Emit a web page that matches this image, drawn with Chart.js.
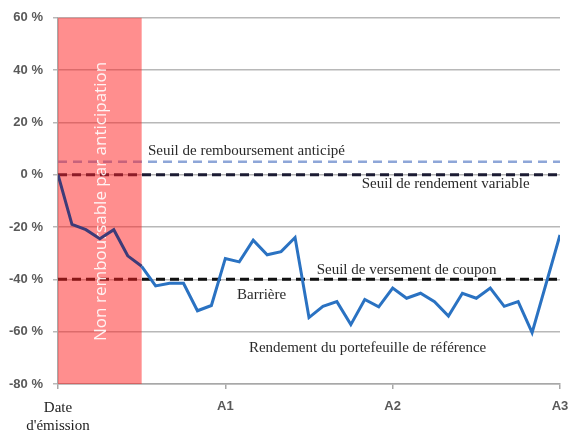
<!DOCTYPE html>
<html>
<head>
<meta charset="utf-8">
<script src="https://cdn.jsdelivr.net/npm/chart.js@4.4.1/dist/chart.umd.min.js"></script>
<style>
  html, body { margin: 0; padding: 0; background: #fff; }
  #wrap { width: 572px; height: 436px; }
</style>
</head>
<body>
<div id="wrap"><canvas id="chart"></canvas></div>
<script>
// months since issue date and portfolio return (%)
const months = [0, 1, 2, 3, 4, 5, 6, 7, 8, 9, 10, 11, 12, 13, 14, 15, 16, 17,
  18, 19, 20, 21, 22, 23, 24, 25, 26, 27, 28, 29, 30, 31, 32, 33, 34, 36];
const portfolio = [0, -19, -21, -24.5, -21, -31, -35, -42.5, -41.5, -41.5, -52, -50, -32,
  -33.3, -25, -30.6, -29.4, -24, -54.6, -50.3, -48.5, -57.3, -47.7, -50.5, -43.3,
  -47.2, -45.3, -48.5, -54, -45.3, -47.2, -43.3, -50.3, -48.5, -60.4, -23];

// thresholds (%)
const earlyRedemptionLevel = 5;
const variableYieldLevel = 0;
const couponLevel = -40;
const nonCallableMonths = 6;

const xTickValues = [0, 12, 24, 36];
const xTickLabels = [['Date', "d'émission"], 'A1', 'A2', 'A3'];
const yTickValues = [-80, -60, -40, -20, 0, 20, 40, 60];

const lineLabels = [
  'Seuil de remboursement anticipé',
  'Seuil de rendement variable',
  'Seuil de versement de coupon',
  'Barrière',
  'Rendement du portefeuille de référence'
];
// where each label sits, in axis units (month, %)
const labelSpots = [
  { x: 6.45, y: 9, align: 'left' },
  { x: 27.8, y: -3.4, align: 'center' },
  { x: 25, y: -36.6, align: 'center' },
  { x: 14.6, y: -46, align: 'center' },
  { x: 22.2, y: -66.4, align: 'center' }
];

const flatLine = (level) => [{ x: 0, y: level }, { x: 36, y: level }];

const overlay = {
  id: 'overlay',
  beforeDatasetDraw(chart, args) {
    if (args.index !== 0) return;
    const { ctx, scales: { x, y } } = chart;
    const l = x.getPixelForValue(0), r = x.getPixelForValue(nonCallableMonths);
    const t = y.getPixelForValue(60), b = y.getPixelForValue(-80);
    ctx.save();
    ctx.fillStyle = 'rgba(255, 30, 30, 0.5)';
    ctx.fillRect(l, t, r - l, b - t);
    ctx.translate((l + r) / 2 + 1, y.getPixelForValue(-10.2));
    ctx.rotate(-Math.PI / 2);
    ctx.fillStyle = 'rgba(255, 255, 255, 0.9)';
    ctx.font = '17px "Open Sans"';
    ctx.textAlign = 'center';
    ctx.textBaseline = 'middle';
    ctx.fillText('Non remboursable par anticipation', 0, 0);
    ctx.restore();
  },
  afterDatasetsDraw(chart) {
    const { ctx, scales: { x, y } } = chart;
    ctx.save();
    ctx.fillStyle = '#2a2a2a';
    ctx.font = '15px "Liberation Serif"';
    ctx.textBaseline = 'middle';
    lineLabels.forEach((txt, i) => {
      const s = labelSpots[i];
      ctx.textAlign = s.align;
      ctx.fillText(txt, x.getPixelForValue(s.x), y.getPixelForValue(s.y));
    });
    ctx.restore();
  }
};

new Chart(document.getElementById('chart'), {
  type: 'line',
  data: {
    datasets: [
      {
        data: months.map((m, i) => ({ x: m, y: portfolio[i] })),
        borderWidth: 3,
        borderColor: '#2a72c2',
        segment: {
          borderColor: c => c.p0.parsed.x < nonCallableMonths ? '#3d3b78' : '#2a72c2'
        },
        pointRadius: 0,
        tension: 0,
        order: 0
      },
      {
        data: flatLine(earlyRedemptionLevel),
        borderColor: '#8ea6d8',
        borderWidth: 2.5,
        borderDash: [9, 6],
        pointRadius: 0,
        order: 1
      },
      {
        data: flatLine(variableYieldLevel),
        borderColor: '#1b1b33',
        borderWidth: 3,
        borderDash: [9, 5],
        pointRadius: 0,
        order: 1
      },
      {
        data: flatLine(couponLevel),
        borderColor: '#111111',
        borderWidth: 3,
        borderDash: [9, 5],
        pointRadius: 0,
        order: 1
      }
    ]
  },
  options: {
    responsive: true,
    maintainAspectRatio: false,
    animation: false,
    layout: { padding: { top: 17, right: 12, left: 0, bottom: 0 } },
    plugins: { legend: { display: false }, tooltip: { enabled: false } },
    scales: {
      x: {
        type: 'linear',
        min: 0,
        max: 36,
        afterFit: s => { s.height = 52; s.paddingLeft = 0; s.paddingRight = 0; },
        afterBuildTicks: s => { s.ticks = xTickValues.map(v => ({ value: v })); },
        grid: { drawOnChartArea: false, tickLength: 5, color: '#a8a8a8', lineWidth: 1.5 },
        border: { color: '#a8a8a8', width: 1.5 },
        ticks: {
          autoSkip: false,
          maxRotation: 0,
          padding: 10,
          callback: v => xTickLabels[xTickValues.indexOf(v)],
          color: c => c.index === 0 ? '#222' : '#595959',
          font: c => c.index === 0
            ? { family: 'Liberation Serif', size: 15, lineHeight: '18px' }
            : { family: 'Liberation Sans', size: 13, weight: 'bold' }
        }
      },
      y: {
        min: -80,
        max: 60,
        afterFit: s => { s.width = 58; },
        afterBuildTicks: s => { s.ticks = yTickValues.map(v => ({ value: v })); },
        grid: { color: '#b8b8b8', lineWidth: 1.5, tickLength: 5 },
        border: { color: '#a8a8a8', width: 1.5 },
        ticks: {
          padding: 10,
          color: '#595959',
          font: { family: 'Liberation Sans', size: 13, weight: 'bold' },
          callback: v => v + ' %'
        }
      }
    }
  },
  plugins: [overlay]
});
</script>
</body>
</html>
